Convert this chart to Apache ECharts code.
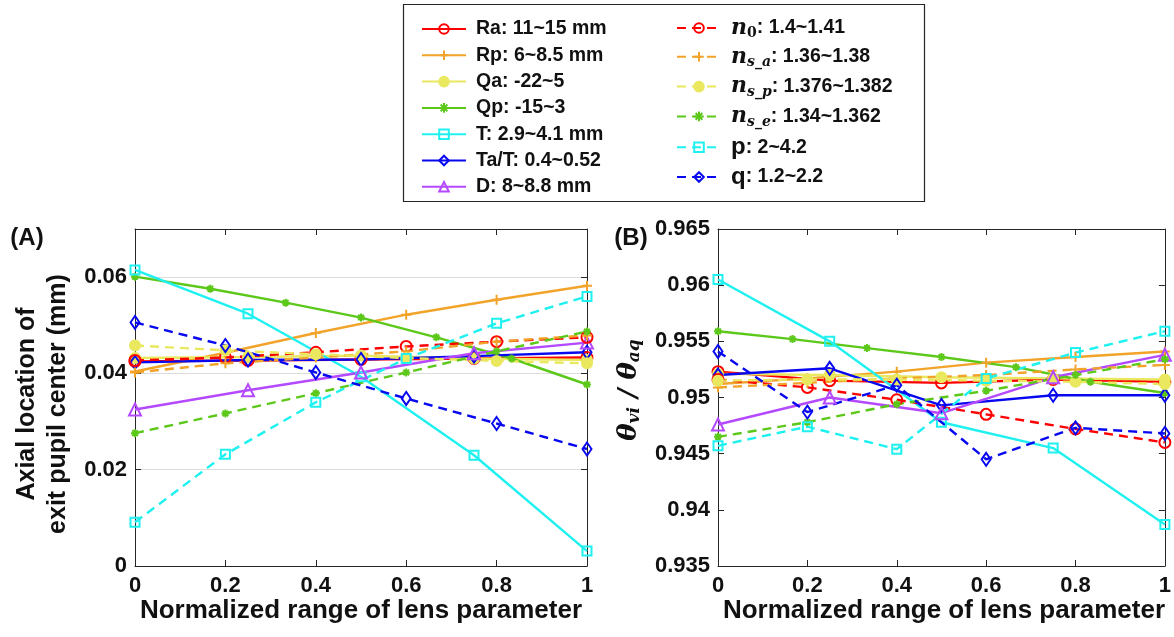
<!DOCTYPE html>
<html>
<head>
<meta charset="utf-8">
<title>Exit pupil sensitivity</title>
<script src="https://cdn.jsdelivr.net/npm/echarts@6/dist/echarts.min.js"></script>
<style>
  html, body { margin: 0; padding: 0; background: #fff; }
  #chart { width: 1174px; height: 637px; }
</style>
</head>
<body>
<div id="chart"></div>
<script>
// Normalized parameter positions used by the sweeps
const xQuarters = [0, 0.25, 0.5, 0.75, 1];
const xFifths = [0, 0.2, 0.4, 0.6, 0.8, 1];
const xSixths = [0, 1 / 6, 2 / 6, 3 / 6, 4 / 6, 5 / 6, 1];

// Legend entries
const seriesNames = [
  'Ra: 11~15 mm', 'Rp: 6~8.5 mm', 'Qa: -22~5', 'Qp: -15~3', 'T: 2.9~4.1 mm',
  'Ta/T: 0.4~0.52', 'D: 8~8.8 mm', 'n0: 1.4~1.41', 'ns_a: 1.36~1.38',
  'ns_p: 1.376~1.382', 'ns_e: 1.34~1.362', 'p: 2~4.2', 'q: 1.2~2.2'
];

// Panel A: axial location of exit pupil center (mm)
const raA  = [0.0425, 0.0427, 0.0429, 0.0431, 0.0433];
const rpA  = [0.0404, 0.0443, 0.0484, 0.0522, 0.0553, 0.0582];
const qaA  = [0.0432, 0.0434, 0.0437, 0.0431, 0.0428];
const qpA  = [0.0601, 0.0576, 0.0547, 0.0516, 0.0475, 0.0431, 0.0377];
const tA   = [0.0615, 0.0524, 0.0393, 0.0230, 0.0031];
const taA  = [0.0423, 0.0428, 0.0429, 0.0436, 0.0444];
const dA   = [0.0325, 0.0365, 0.0402, 0.0442, 0.0464];
const n0A  = [0.0427, 0.0433, 0.0444, 0.0456, 0.0466, 0.0475];
const nsaA = [0.0402, 0.0421, 0.0433, 0.0446, 0.0466, 0.0479];
const nspA = [0.0458, 0.0448, 0.0440, 0.0432, 0.0426, 0.0421];
const nseA = [0.0276, 0.0317, 0.0359, 0.0402, 0.0446, 0.0487];
const pA   = [0.0091, 0.0232, 0.0340, 0.0431, 0.0504, 0.0560];
const qA   = [0.0506, 0.0458, 0.0402, 0.0348, 0.0296, 0.0243];

// Panel B: theta_vi / theta_aq
const raB  = [0.9523, 0.9515, 0.9513, 0.9516, 0.9514];
const rpB  = [0.9512, 0.9517, 0.9523, 0.9531, 0.9536, 0.9541];
const qaB  = [0.9521, 0.9520, 0.9518, 0.9517, 0.9516];
const qpB  = [0.9559, 0.9552, 0.9544, 0.9536, 0.9527, 0.9514, 0.9504];
const tB   = [0.9605, 0.9550, 0.9478, 0.9455, 0.9387];
const taB  = [0.9520, 0.9526, 0.9493, 0.9502, 0.9502];
const dB   = [0.9476, 0.9500, 0.9486, 0.9518, 0.9538];
const n0B  = [0.9516, 0.9509, 0.9498, 0.9485, 0.9472, 0.9460];
const nsaB = [0.9509, 0.9513, 0.9517, 0.9520, 0.9525, 0.9529];
const nspB = [0.9515, 0.9516, 0.9516, 0.9515, 0.9514, 0.9512];
const nseB = [0.9465, 0.9478, 0.9494, 0.9506, 0.9520, 0.9534];
const pB   = [0.9457, 0.9474, 0.9454, 0.9517, 0.9540, 0.9559];
const qB   = [0.9541, 0.9487, 0.9511, 0.9445, 0.9473, 0.9468];

// Tick labels
const xTickLabels = ['0', '0.2', '0.4', '0.6', '0.8', '1'];
const yTickLabelsA = ['0', '0.02', '0.04', '0.06'];
const yTickLabelsB = ['0.935', '0.94', '0.945', '0.95', '0.955', '0.96', '0.965'];

// ---- styling ----
const RED = '#ff0000', ORANGE = '#f2a32a', YELLOW = '#e9e85e', GREEN = '#5cc81a',
      CYAN = '#1ff0f0', BLUE = '#0808f0', PURPLE = '#b449ff';

const PLUS = 'path://M5,0L5,10M0,5L10,5';
const STAR = 'path://M5,0L5,10M0,5L10,5M1.5,1.5L8.5,8.5M8.5,1.5L1.5,8.5';

// per-entry: colour, dashed?, symbol, size, filled?, x positions, A data, B data
const styles = [
  { c: RED,    dash: false, sym: 'circle',   size: 11, fill: false, xs: xQuarters, a: raA,  b: raB  },
  { c: ORANGE, dash: false, sym: PLUS,       size: 10, fill: false, xs: xFifths,   a: rpA,  b: rpB  },
  { c: YELLOW, dash: false, sym: 'circle',   size: 10, fill: true,  xs: xQuarters, a: qaA,  b: qaB  },
  { c: GREEN,  dash: false, sym: STAR,       size: 8,  fill: false, xs: xSixths,   a: qpA,  b: qpB  },
  { c: CYAN,   dash: false, sym: 'rect',     size: 9,  fill: false, xs: xQuarters, a: tA,   b: tB   },
  { c: BLUE,   dash: false, sym: 'diamond',  size: [9, 13], fill: false, xs: xQuarters, a: taA, b: taB },
  { c: PURPLE, dash: false, sym: 'triangle', size: 12, fill: false, xs: xQuarters, a: dA,   b: dB   },
  { c: RED,    dash: true,  sym: 'circle',   size: 11, fill: false, xs: xFifths,   a: n0A,  b: n0B  },
  { c: ORANGE, dash: true,  sym: PLUS,       size: 10, fill: false, xs: xFifths,   a: nsaA, b: nsaB },
  { c: YELLOW, dash: true,  sym: 'circle',   size: 10, fill: true,  xs: xFifths,   a: nspA, b: nspB },
  { c: GREEN,  dash: true,  sym: STAR,       size: 8,  fill: false, xs: xFifths,   a: nseA, b: nseB },
  { c: CYAN,   dash: true,  sym: 'rect',     size: 9,  fill: false, xs: xFifths,   a: pA,   b: pB   },
  { c: BLUE,   dash: true,  sym: 'diamond',  size: [9, 13], fill: false, xs: xFifths,   a: qA,   b: qB   }
];

const SANS = '"Liberation Sans", Arial, sans-serif';
const SERIF = '"DejaVu Serif", "Liberation Serif", serif';

function pair(xs, ys) { return ys.map((y, i) => [xs[i], y]); }

function makeSeries(st, name, axisIndex, ys) {
  return {
    type: 'line',
    name: name,
    xAxisIndex: axisIndex,
    yAxisIndex: axisIndex,
    data: pair(st.xs, ys),
    symbol: st.sym,
    symbolSize: st.size,
    showAllSymbol: true,
    animation: false,
    lineStyle: { color: st.c, width: 2.4, type: st.dash ? [9, 6] : 'solid' },
    itemStyle: {
      color: st.fill ? st.c : 'rgba(255,255,255,0)',
      borderColor: st.c,
      borderWidth: 2
    },
    emphasis: { disabled: true }
  };
}

const series = [];
styles.forEach((st, i) => series.push(makeSeries(st, seriesNames[i], 0, st.a)));
styles.forEach((st, i) => series.push(makeSeries(st, seriesNames[i], 2, st.b)));

// Rich legend labels (italic refractive-index symbols with subscripts)
const legendRich = {
  b:  { fontFamily: SANS, fontWeight: 'bold', fontSize: 19.5, color: '#111' },
  big:{ fontFamily: SANS, fontWeight: 'bold', fontSize: 24, color: '#111' },
  n:  { fontFamily: SERIF, fontStyle: 'italic', fontWeight: 'bold', fontSize: 22, color: '#111' },
  s:  { fontFamily: SERIF, fontStyle: 'italic', fontWeight: 'bold', fontSize: 14, color: '#111', padding: [12, 0, 0, 0] },
  s0: { fontFamily: SERIF, fontWeight: 'bold', fontSize: 14, color: '#111', padding: [10, 0, 0, 0] }
};
function legendText(name) {
  const k = name.indexOf(':');
  const head = name.slice(0, k), tail = name.slice(k);
  if (head === 'n0') return '{n|n}{s0|0}{b|' + tail + '}';
  if (head.startsWith('ns_')) return '{n|n}{s|s_' + head.slice(3) + '}{b|' + tail + '}';
  if (head === 'p' || head === 'q') return '{big|' + head + '}{b|' + tail + '}';
  return '{b|' + name + '}';
}

function xAxisDef(grid, pos, labels) {
  return {
    type: 'value', gridIndex: grid, position: pos, min: 0, max: 1, interval: 0.2,
    axisLine: { show: true, onZero: false, lineStyle: { color: '#262626', width: 1 } },
    axisTick: { show: true, inside: true, length: 6, lineStyle: { color: '#262626' } },
    axisLabel: labels ? {
      show: true, margin: 9, fontFamily: SANS, fontWeight: 'bold', fontSize: 22, color: '#111',
      formatter: v => { const i = Math.round(v / 0.2); return Math.abs(v - i * 0.2) < 1e-9 ? (xTickLabels[i] || '') : ''; }
    } : { show: false },
    splitLine: { show: false }
  };
}

function yAxisDef(grid, pos, min, max, interval, labels, tickLabels, split) {
  return {
    type: 'value', gridIndex: grid, position: pos, min: min, max: max, interval: interval,
    axisLine: { show: true, onZero: false, lineStyle: { color: '#262626', width: 1 } },
    axisTick: { show: true, inside: true, length: 6, lineStyle: { color: '#262626' } },
    axisLabel: labels ? {
      show: true, margin: 8, fontFamily: SANS, fontWeight: 'bold', fontSize: 22, color: '#111',
      formatter: v => { const i = Math.round((v - min) / interval); return Math.abs(v - (min + i * interval)) < 1e-9 ? (tickLabels[i] || '') : ''; }
    } : { show: false },
    splitLine: { show: split, lineStyle: { color: '#dcdcdc', width: 1 } }
  };
}

const option = {
  backgroundColor: '#ffffff',
  animation: false,
  grid: [
    { left: 135, top: 229, width: 452, height: 337 },
    { left: 718, top: 229, width: 452, height: 337 }
  ],
  xAxis: [
    xAxisDef(0, 'bottom', true), xAxisDef(0, 'top', false),
    xAxisDef(1, 'bottom', true), xAxisDef(1, 'top', false)
  ],
  yAxis: [
    yAxisDef(0, 'left', 0, 0.07, 0.02, true, yTickLabelsA, true),
    yAxisDef(0, 'right', 0, 0.07, 0.02, false, yTickLabelsA, false),
    yAxisDef(1, 'left', 0.935, 0.965, 0.005, true, yTickLabelsB, false),
    yAxisDef(1, 'right', 0.935, 0.965, 0.005, false, yTickLabelsB, false)
  ],
  legend: [
    {
      data: seriesNames.slice(0, 7), orient: 'vertical', left: 416, top: 14,
      itemWidth: 44, itemHeight: 12, itemGap: 6.3, selectedMode: false,
      formatter: legendText, textStyle: { rich: legendRich, padding: [0, 0, 0, 5] }
    },
    {
      data: seriesNames.slice(7), orient: 'vertical', left: 671, top: 12,
      itemWidth: 44, itemHeight: 12, itemGap: 5.8, selectedMode: false,
      formatter: legendText, textStyle: { rich: legendRich, padding: [0, 0, 0, 5] }
    }
  ],
  graphic: [
    { type: 'rect', shape: { x: 403.5, y: 4.5, width: 521, height: 197 }, style: { fill: 'none', stroke: '#262626', lineWidth: 1.2 }, z: 10 },
    { type: 'text', x: 27, y: 238, style: { text: '(A)', fontFamily: SANS, fontWeight: 'bold', fontSize: 24, fill: '#111', align: 'center', verticalAlign: 'middle' } },
    { type: 'text', x: 631, y: 238, style: { text: '(B)', fontFamily: SANS, fontWeight: 'bold', fontSize: 24, fill: '#111', align: 'center', verticalAlign: 'middle' } },
    { type: 'text', x: 43, y: 404, rotation: Math.PI / 2,
      style: { text: 'Axial location of\nexit pupil center (mm)', fontFamily: SANS, fontWeight: 'bold', fontSize: 25, lineHeight: 31, fill: '#111', align: 'center', verticalAlign: 'middle' } },
    { type: 'text', x: 629, y: 390, rotation: Math.PI / 2,
      style: {
        text: '{t|θ}{s|vi}{t| / θ}{s|aq}', align: 'center', verticalAlign: 'middle',
        rich: {
          t: { fontFamily: SERIF, fontStyle: 'italic', fontWeight: 'bold', fontSize: 26, fill: '#111' },
          s: { fontFamily: SERIF, fontStyle: 'italic', fontWeight: 'bold', fontSize: 17, fill: '#111', padding: [12, 0, 0, 0] }
        }
      } },
    { type: 'text', x: 361, y: 611, style: { text: 'Normalized range of lens parameter', fontFamily: SANS, fontWeight: 'bold', fontSize: 26, fill: '#111', align: 'center', verticalAlign: 'middle' } },
    { type: 'text', x: 944, y: 611, style: { text: 'Normalized range of lens parameter', fontFamily: SANS, fontWeight: 'bold', fontSize: 26, fill: '#111', align: 'center', verticalAlign: 'middle' } }
  ],
  series: series
};

const chart = echarts.init(document.getElementById('chart'), null, { renderer: 'canvas' });
chart.setOption(option);
</script>
</body>
</html>
